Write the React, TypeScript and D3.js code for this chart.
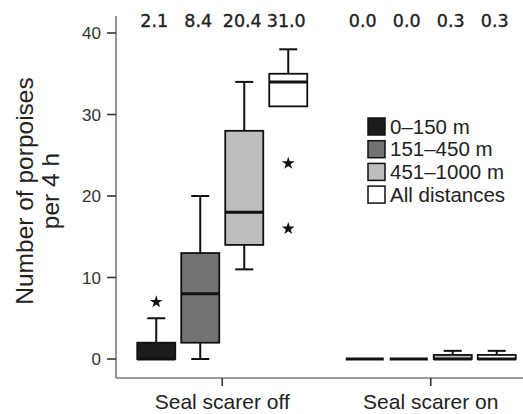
import React from "react";
import * as d3 from "d3";

const groups = ["Seal scarer off", "Seal scarer on"];
const series = ["0–150 m", "151–450 m", "451–1000 m", "All distances"];
const fills = ["#1c1c1c", "#737373", "#bdbdbd", "#ffffff"];
const yTicks = [0, 10, 20, 30, 40];

const offMeans = ["2.1", "8.4", "20.4", "31.0"];
const onMeans = ["0.0", "0.0", "0.3", "0.3"];

const offLow = [0, 0, 11, 31];
const offQ1 = [0, 2, 14, 31];
const offMed = [0, 8, 18, 34];
const offQ3 = [2, 13, 28, 35];
const offHigh = [5, 20, 34, 38];
const offOutliers = [[7], [], [], [24, 16]];

const onLow = [0, 0, 0, 0];
const onQ1 = [0, 0, 0, 0];
const onMed = [0, 0, 0, 0];
const onQ3 = [0, 0, 0.5, 0.5];
const onHigh = [0, 0, 1, 1];
const onOutliers = [[], [], [], []];

type Box = { g: string; s: string; i: number; low: number; q1: number; med: number; q3: number; high: number; out: number[]; mean: string };

const boxes: Box[] = [];
series.forEach((s, i) => {
  boxes.push({ g: groups[0], s, i, low: offLow[i], q1: offQ1[i], med: offMed[i], q3: offQ3[i], high: offHigh[i], out: offOutliers[i], mean: offMeans[i] });
});
series.forEach((s, i) => {
  boxes.push({ g: groups[1], s, i, low: onLow[i], q1: onQ1[i], med: onMed[i], q3: onQ3[i], high: onHigh[i], out: onOutliers[i], mean: onMeans[i] });
});

const W = 523;
const H = 414;
const axisX = 116;
const axisY = 378;

export default function App() {
  const x0 = d3.scaleBand<string>().domain(groups).range([118, 535]).padding(0);
  const x1 = d3.scaleBand<string>().domain(series).range([-88, 88]).paddingInner(0.136).paddingOuter(0.068);
  const y = d3.scaleLinear().domain([0, 40]).range([359, 33]);
  const bw = x1.bandwidth();
  const capW = 18;
  const star = d3.symbol().type(d3.symbolStar).size(50)();
  const sans = "'Liberation Sans', Arial, Helvetica, sans-serif";

  return (
    <svg width={W} height={H} style={{ position: "absolute", left: 0, top: 0, background: "#fff" }}>
      {/* axes */}
      <line x1={axisX} y1={16} x2={axisX} y2={axisY} stroke="#7a7a7a" strokeWidth={1.6} />
      <line x1={axisX} y1={axisY} x2={W} y2={axisY} stroke="#7a7a7a" strokeWidth={1.6} />
      {yTicks.map((t) => (
        <g key={t}>
          <line x1={107} x2={axisX} y1={y(t)} y2={y(t)} stroke="#333" strokeWidth={1.6} />
          <text x={101} y={y(t)} dy="0.36em" textAnchor="end" fontFamily={sans} fontSize={17} fill="#333">
            {t}
          </text>
        </g>
      ))}
      {groups.map((g) => {
        const cx = (x0(g) as number) + x0.bandwidth() / 2;
        return (
          <g key={g}>
            <line x1={cx} x2={cx} y1={axisY} y2={386} stroke="#333" strokeWidth={1.6} />
            <text x={cx} y={409} textAnchor="middle" fontFamily={sans} fontSize={21} fill="#222">
              {g}
            </text>
          </g>
        );
      })}

      {/* boxes */}
      {boxes.map((b, k) => {
        const cx = (x0(b.g) as number) + x0.bandwidth() / 2 + (x1(b.s) as number) + bw / 2;
        const left = cx - bw / 2;
        return (
          <g key={k}>
            {b.high > b.q3 && (
              <g>
                <line x1={cx} x2={cx} y1={y(b.q3)} y2={y(b.high)} stroke="#111" strokeWidth={2} />
                <line x1={cx - capW / 2} x2={cx + capW / 2} y1={y(b.high)} y2={y(b.high)} stroke="#111" strokeWidth={2} />
              </g>
            )}
            {b.low < b.q1 && (
              <g>
                <line x1={cx} x2={cx} y1={y(b.q1)} y2={y(b.low)} stroke="#111" strokeWidth={2} />
                <line x1={cx - capW / 2} x2={cx + capW / 2} y1={y(b.low)} y2={y(b.low)} stroke="#111" strokeWidth={2} />
              </g>
            )}
            <rect x={left} y={y(b.q3)} width={bw} height={y(b.q1) - y(b.q3)} fill={fills[b.i]} stroke="#111" strokeWidth={1.8} />
            <line x1={left} x2={left + bw} y1={y(b.med)} y2={y(b.med)} stroke="#111" strokeWidth={3} />
            {b.out.map((o, j) => (
              <path key={j} d={star as string} transform={`translate(${cx},${y(o)})`} fill="#111" />
            ))}
            <text x={cx - 2} y={27} textAnchor="middle" fontFamily="'DejaVu Sans', Verdana, sans-serif" fontSize={17.5} fill="#222" stroke="#222" strokeWidth={0.35}>
              {b.mean}
            </text>
          </g>
        );
      })}

      {/* y title */}
      <g transform="translate(33,191) rotate(-90)">
        <text textAnchor="middle" fontFamily={sans} fontSize={24.5} fill="#222">
          <tspan x={0} y={0}>Number of porpoises</tspan>
          <tspan x={0} y={26}>per 4 h</tspan>
        </text>
      </g>

      {/* legend */}
      {series.map((s, i) => (
        <g key={s} transform={`translate(368,${118 + i * 22.7})`}>
          <rect x={0} y={0} width={17} height={17} fill={fills[i]} stroke="#111" strokeWidth={1.5} />
          <text x={22} y={15.5} fontFamily={sans} fontSize={20.5} fill="#222">
            {s}
          </text>
        </g>
      ))}
    </svg>
  );
}
